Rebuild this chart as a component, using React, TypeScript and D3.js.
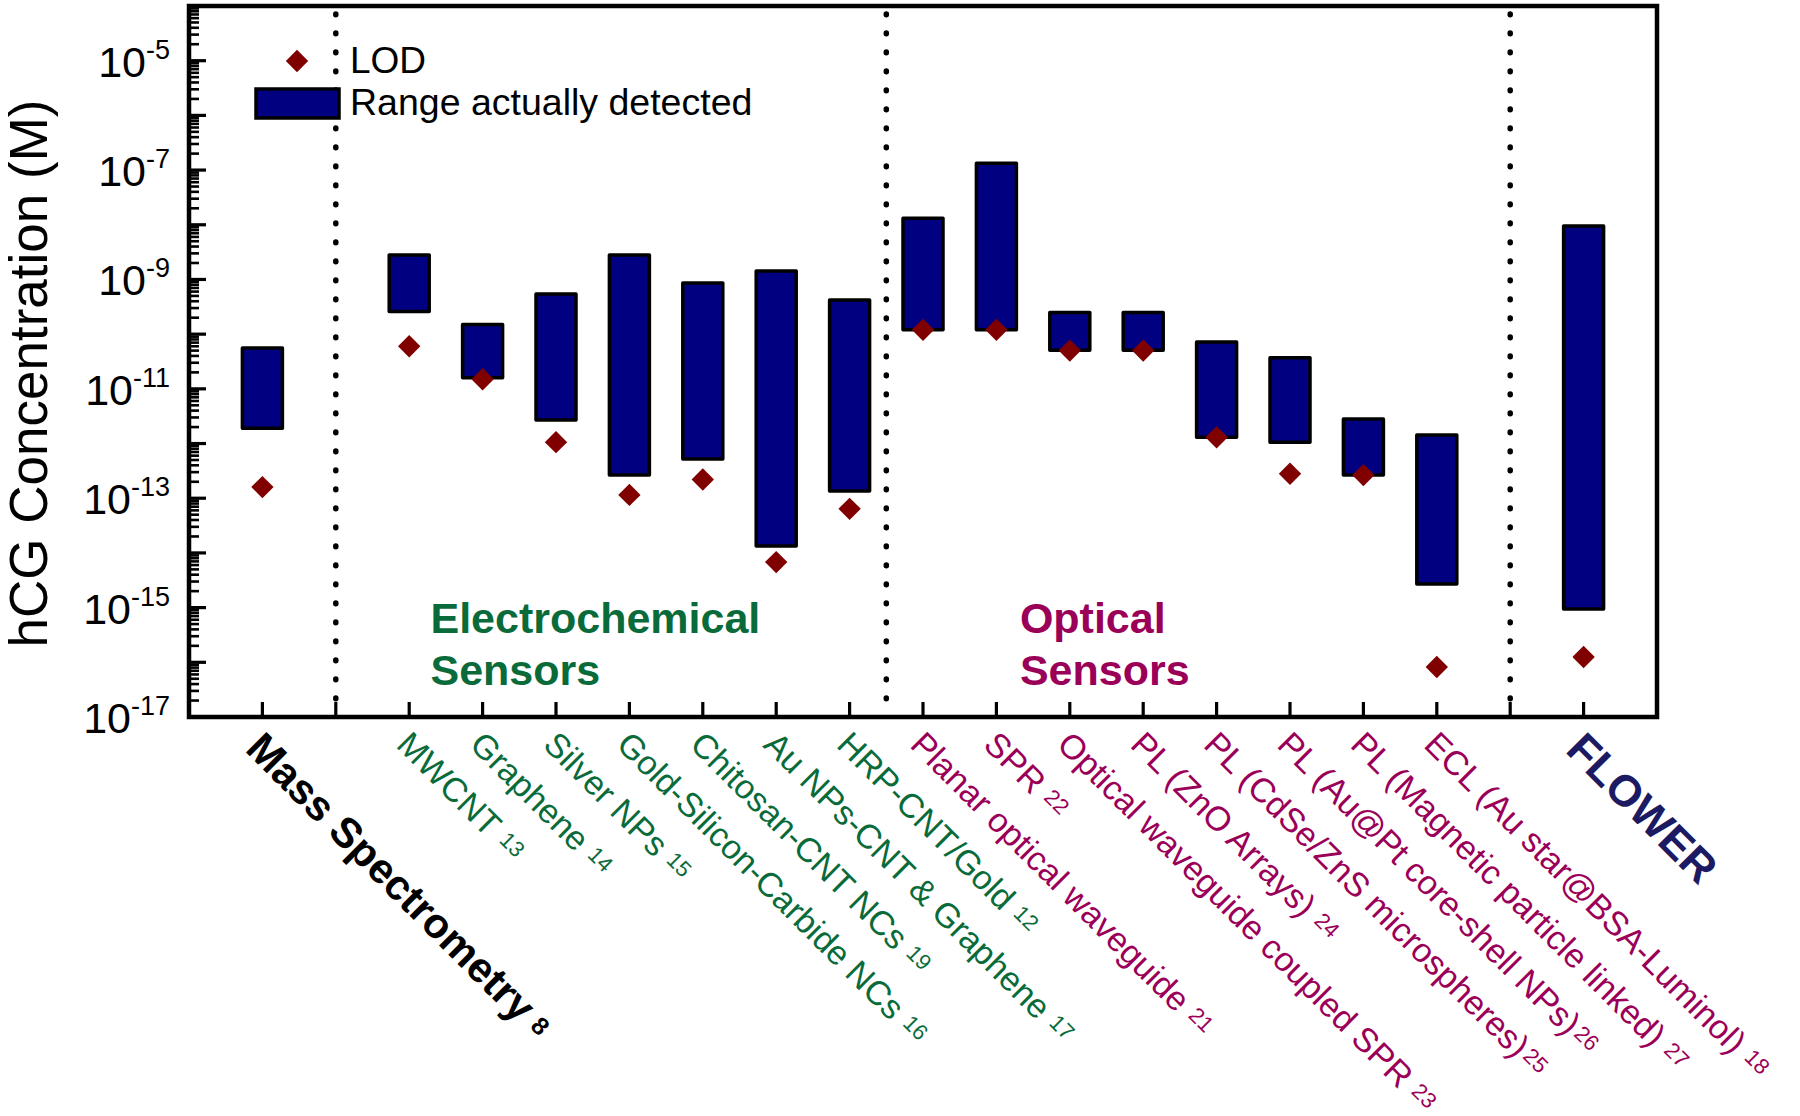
import React from "react";
import * as d3 from "d3";

// ---------- data ----------
const categories = [
  "Mass Spectrometry",
  "MWCNT",
  "Graphene",
  "Silver NPs",
  "Gold-Silicon-Carbide NCs",
  "Chitosan-CNT NCs",
  "Au NPs-CNT & Graphene",
  "HRP-CNT/Gold",
  "Planar optical waveguide",
  "SPR",
  "Optical waveguide coupled SPR",
  "PL (ZnO Arrays)",
  "PL (CdSe/ZnS microspheres)",
  "PL (Au@Pt core-shell NPs)",
  "PL (Magnetic particle linked)",
  "ECL (Au star@BSA-Luminol)",
  "FLOWER",
];
const refs = ["8", "13", "14", "15", "16", "19", "17", "12", "21", "22", "23", "24", "25", "26", "27", "18", ""];
const groups = ["ms", "ec", "ec", "ec", "ec", "ec", "ec", "ec", "op", "op", "op", "op", "op", "op", "op", "op", "fl"];
// slot index of each category on the x axis
const slots = [0, 2, 3, 4, 5, 6, 7, 8, 9, 10, 11, 12, 13, 14, 15, 16, 18];
const dividerSlots = [1, 8.5, 17];

const rangeHigh = [5.6e-11, 2.8e-9, 1.5e-10, 5.4e-10, 2.8e-9, 8.6e-10, 1.43e-9, 4.2e-10, 1.32e-8, 1.34e-7, 2.5e-10, 2.5e-10, 7.2e-11, 3.7e-11, 2.8e-12, 1.43e-12, 9.5e-9];
const rangeLow = [1.9e-12, 2.6e-10, 1.6e-11, 2.7e-12, 2.65e-13, 5.2e-13, 1.34e-14, 1.36e-13, 1.2e-10, 1.2e-10, 5.1e-11, 5.1e-11, 1.3e-12, 1.06e-12, 2.65e-13, 2.7e-15, 9.4e-16];
const lod = [1.6e-13, 6e-11, 1.5e-11, 1.06e-12, 1.15e-13, 2.2e-13, 6.8e-15, 6.4e-14, 1.2e-10, 1.2e-10, 5e-11, 5e-11, 1.3e-12, 2.8e-13, 2.65e-13, 8.2e-17, 1.25e-16];

const yLabelExponents = [-17, -15, -13, -11, -9, -7, -5];
const sectionTitles = [
  { lines: ["Electrochemical", "Sensors"], group: "ec", slot: 2.29 },
  { lines: ["Optical", "Sensors"], group: "op", slot: 10.32 },
];

// ---------- style ----------
const W = 1800;
const H = 1116;
const LEFT = 189;
const RIGHT = 1657;
const TOP = 6;
const BOTTOM = 717;
const FONT = "Arial, 'Liberation Sans', Helvetica, sans-serif";
const colorOf: Record<string, string> = {
  ms: "#000000",
  ec: "#0a6b3a",
  op: "#9b0059",
  fl: "#1c1a62",
};

export default function App() {
  const x = d3.scaleLinear().domain([-1, 19]).range([LEFT, RIGHT]);
  const y = d3.scaleLog().domain([1e-17, 1e-4]).range([BOTTOM, TOP]);

  const majors: number[] = [];
  const minors: number[] = [];
  for (let e = -17; e <= -4; e++) {
    majors.push(+`1e${e}`);
    if (e < -4) for (let m = 2; m <= 9; m++) minors.push(+`${m}e${e}`);
  }
  const xTicks = d3.range(0, 19);
  const barW = 40;
  const diamond = d3.symbol().type(d3.symbolSquare).size(250)()!;

  return (
    <svg
      width={W}
      height={H}
      style={{ position: "absolute", left: 0, top: 0, display: "block", background: "#fff" }}
      fontFamily={FONT}
    >
      <rect x={0} y={0} width={W} height={H} fill="#fff" />

      {/* dotted dividers */}
      {dividerSlots.map((s, i) => (
        <line
          key={"dv" + i}
          x1={x(s)}
          x2={x(s)}
          y1={14}
          y2={BOTTOM}
          stroke="#000"
          strokeWidth={5.5}
          strokeLinecap="round"
          strokeDasharray="0.8 18.2"
        />
      ))}

      {/* y ticks */}
      {majors.map((v, i) => (
        <line key={"ma" + i} x1={LEFT} x2={LEFT + 17} y1={y(v)} y2={y(v)} stroke="#000" strokeWidth={3.2} />
      ))}
      {minors.map((v, i) => (
        <line key={"mi" + i} x1={LEFT} x2={LEFT + 10} y1={y(v)} y2={y(v)} stroke="#000" strokeWidth={2.6} />
      ))}
      {/* x ticks */}
      {xTicks.map((t) => (
        <line key={"xt" + t} x1={x(t)} x2={x(t)} y1={BOTTOM} y2={BOTTOM - 15} stroke="#000" strokeWidth={3.2} />
      ))}

      {/* bars */}
      {categories.map((c, i) => (
        <rect
          key={"bar" + i}
          x={x(slots[i]) - barW / 2}
          y={y(rangeHigh[i])}
          width={barW}
          height={y(rangeLow[i]) - y(rangeHigh[i])}
          fill="#000080"
          stroke="#000"
          strokeWidth={3.5}
          strokeLinejoin="round"
        />
      ))}
      {/* LOD diamonds */}
      {categories.map((c, i) => (
        <path
          key={"lod" + i}
          d={diamond}
          transform={`translate(${x(slots[i])},${y(lod[i])}) rotate(45)`}
          fill="#800000"
        />
      ))}

      {/* frame */}
      <rect x={LEFT} y={TOP} width={RIGHT - LEFT} height={BOTTOM - TOP} fill="none" stroke="#000" strokeWidth={4.5} />

      {/* y tick labels */}
      {yLabelExponents.map((e) => (
        <text key={"yl" + e} x={170} y={y(+`1e${e}`) + 16} textAnchor="end" fontSize={43} fill="#000">
          10
          <tspan fontSize={27} dy={-18}>
            {"-" + Math.abs(e)}
          </tspan>
        </text>
      ))}

      {/* y title */}
      <text
        transform={`translate(47,${(TOP + BOTTOM) / 2 + 12}) rotate(-90)`}
        textAnchor="middle"
        fontSize={53}
        fill="#000"
      >
        hCG Concentration (M)
      </text>

      {/* legend */}
      <path d={diamond} transform="translate(297,61) rotate(45)" fill="#800000" />
      <text x={350} y={73} fontSize={37} fill="#000">
        LOD
      </text>
      <rect x={256} y={89} width={83} height={29} fill="#000080" stroke="#000" strokeWidth={3.5} />
      <text x={350} y={115} fontSize={37.5} fill="#000">
        Range actually detected
      </text>

      {/* section titles */}
      {sectionTitles.map((s, i) => (
        <text key={"st" + i} x={x(s.slot)} y={633} fontSize={43} fontWeight="bold" fill={colorOf[s.group]}>
          {s.lines.map((l, j) => (
            <tspan key={j} x={x(s.slot)} dy={j === 0 ? 0 : 52}>
              {l}
            </tspan>
          ))}
        </text>
      ))}

      {/* x labels */}
      {categories.map((c, i) => {
        const g = groups[i];
        const bold = g === "ms" || g === "fl";
        const fs = g === "ms" ? 42 : g === "fl" ? 44 : 34;
        return (
          <text
            key={"xl" + i}
            transform={`translate(${x(slots[i]) + 3},${729}) rotate(45)`}
            dy="0.72em"
            fontSize={fs}
            fontWeight={bold ? "bold" : "normal"}
            fill={colorOf[g]}
          >
            {c}
            {refs[i] ? (
              <tspan fontSize={g === "ms" ? 25 : 22} dx={refs[i] === "25" || refs[i] === "26" ? 3 : 10} dy={-6}>
                {refs[i]}
              </tspan>
            ) : null}
          </text>
        );
      })}
    </svg>
  );
}
